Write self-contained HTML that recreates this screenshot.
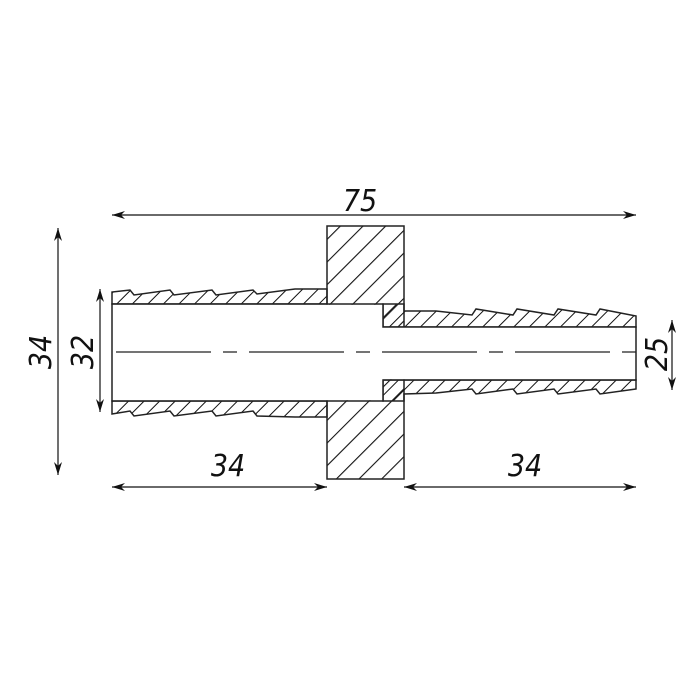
<!DOCTYPE html>
<html><head><style>body{margin:0;background:#fff}svg{display:block}text{font-family:"DejaVu Sans Condensed","Liberation Sans",sans-serif;font-style:italic;font-size:30px;fill:#111}</style></head><body>
<svg width="700" height="700" viewBox="0 0 700 700" xmlns="http://www.w3.org/2000/svg">
<defs>
<pattern id="h" patternUnits="userSpaceOnUse" width="16" height="16" patternTransform="rotate(45)">
<line x1="0" y1="0" x2="0" y2="16" stroke="#111" stroke-width="2.2"/>
</pattern>
<pattern id="h2" patternUnits="userSpaceOnUse" width="11" height="11" patternTransform="rotate(45)">
<line x1="0" y1="0" x2="0" y2="11" stroke="#111" stroke-width="2"/>
</pattern>
<marker id="a" markerWidth="14" markerHeight="8" refX="13" refY="4" orient="auto-start-reverse" markerUnits="userSpaceOnUse">
<path d="M0,0 L13,4 L0,8 L4,4 Z" fill="#111"/>
</marker>
</defs>
<g stroke="#222" stroke-width="1.5" fill="url(#h2)" stroke-linejoin="miter">
<rect x="327" y="226" width="77" height="253" fill="url(#h)"/>
<path d="M112,304 L112,292 L130,290 L134,295 L170,290 L174,295 L212,290 L216,295 L253,290 L257,294 L295,289 L327,289 L327,304 Z"/>
<path d="M112,401 L112,414 L130,411 L134,416 L170,411 L174,416 L212,411 L216,416 L253,411 L257,416 L295,417 L327,417 L327,401 Z"/>
<path d="M383,304 L404,304 L404,311 L436,311 L472,315 L476,309 L513,315 L517,309 L554,315 L558,309 L596,315 L600,309 L636,316 L636,327 L383,327 Z"/>
<path d="M383,380 L636,380 L636,389 L600,394 L596,389 L558,394 L554,389 L517,394 L513,389 L476,394 L472,389 L436,393 L404,394 L404,401 L383,401 Z"/>
</g>
<path d="M112.7,304.7 L383,304.7 L383,327 L635.3,327 L635.3,379.3 L383,379.3 L383,400.3 L112.7,400.3 Z" fill="#fff"/>
<g stroke="#222" stroke-width="1.5" fill="none">
<path d="M112,304 L383,304 L383,327 L636,327 L636,380 L383,380 L383,401 L112,401 Z"/>
<line x1="116" y1="352" x2="636" y2="352" stroke-dasharray="95,12,14,12" stroke-width="1.3"/>
</g>
<g stroke="#111" stroke-width="1.2" marker-start="url(#a)" marker-end="url(#a)">
<line x1="636" y1="215" x2="112" y2="215"/>
<line x1="58" y1="475" x2="58" y2="228"/>
<line x1="100" y1="412" x2="100" y2="289"/>
<line x1="327" y1="487" x2="112" y2="487"/>
<line x1="636" y1="487" x2="404" y2="487"/>
<line x1="672" y1="390" x2="672" y2="320"/>
</g>
<text x="360" y="211" text-anchor="middle">75</text>
<text x="228" y="476" text-anchor="middle">34</text>
<text x="525" y="476" text-anchor="middle">34</text>
<text transform="translate(51,352) rotate(-90)" text-anchor="middle">34</text>
<text transform="translate(93,352) rotate(-90)" text-anchor="middle">32</text>
<text transform="translate(667,354) rotate(-90)" text-anchor="middle">25</text>
</svg>
</body></html>
